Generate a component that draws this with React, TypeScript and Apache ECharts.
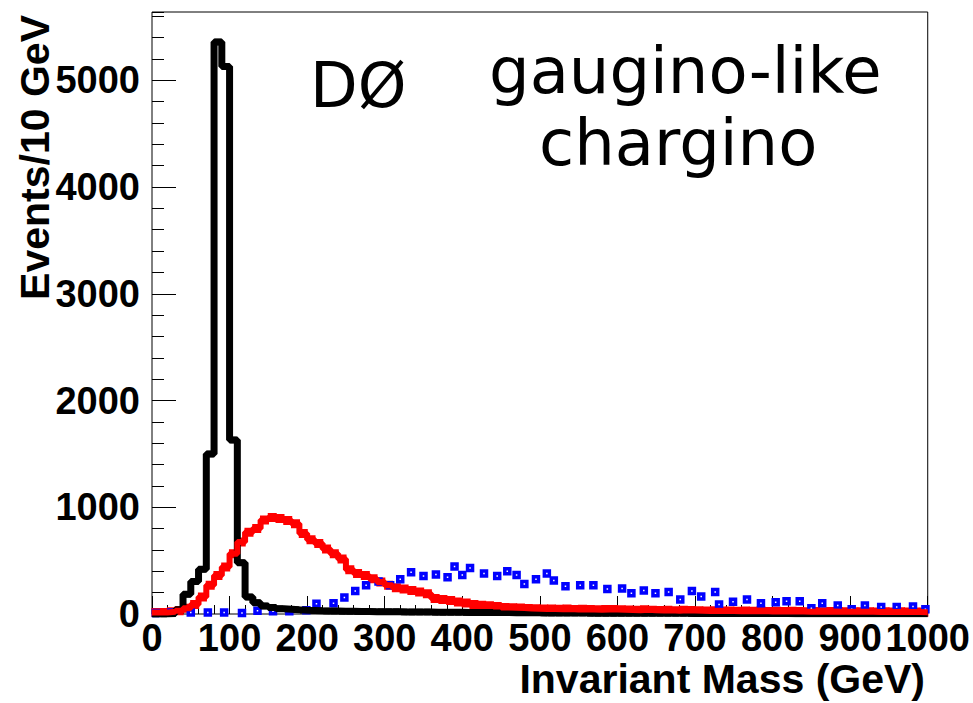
import React, { useEffect, useRef } from "react";
import * as echarts from "echarts";

// Histogram binning (GeV)
const MASS_MIN = 0;
const BIN_WIDTH = 10;

// Background (black histogram), events per 10 GeV bin, 0..1000 GeV
const blackCounts = [
  0, 0, 5, 40, 185, 305, 420, 1500, 5360, 5130,
  1630, 480, 160, 105, 75, 60, 50, 45, 40, 36,
  33, 30, 28, 27, 26, 25, 24, 23, 22, 21,
  20, 20, 19, 19, 18, 18, 17, 17, 16, 16,
  15, 15, 14, 14, 13, 13, 12, 12, 11, 11,
  10, 10, 10, 9, 9, 9, 8, 8, 8, 8,
  7, 7, 7, 7, 6, 6, 6, 6, 6, 5,
  5, 5, 5, 5, 5, 4, 4, 4, 4, 4,
  4, 4, 3, 3, 3, 3, 3, 3, 3, 3,
  3, 2, 2, 2, 2, 2, 2, 2, 2, 2,
];

// Red histogram, events per 10 GeV bin
const redCounts = [
  15, 15, 20, 30, 55, 90, 160, 270, 360, 440,
  565, 675, 765, 800, 880, 905, 895, 875, 845, 755,
  695, 660, 610, 565, 515, 415, 380, 360, 330, 300,
  270, 247, 235, 220, 205, 190, 145, 135, 127, 112,
  102, 90, 81, 78, 70, 60, 59, 57, 51, 50,
  48, 47, 45, 47, 43, 45, 42, 40, 43, 41,
  40, 38, 36, 40, 35, 33, 36, 31, 34, 32,
  30, 28, 31, 27, 29, 26, 28, 25, 27, 24,
  25, 24, 26, 23, 22, 24, 21, 23, 22, 20,
  21, 20, 22, 19, 20, 18, 20, 19, 18, 17,
];

// Blue points (mass in GeV, events)
const blueMass = [
  5, 25, 50, 72, 93, 116, 136, 156, 177, 199,
  212, 234, 248, 262, 276, 292, 307, 320, 334, 350,
  366, 381, 390, 400, 410, 428, 445, 458, 470, 480,
  495, 509, 518, 533, 552, 569, 587, 606, 618, 634,
  649, 666, 681, 696, 708, 726, 731, 749, 767, 785,
  804, 818, 835, 850, 864, 884, 902, 919, 940, 960,
  981, 997,
];
const blueCounts = [
  10, 15, 15, 15, 15, 10, 30, 25, 25, 35,
  95, 100, 155, 215, 270, 305, 270, 325, 390, 355,
  370, 345, 445, 365, 430, 380, 355, 400, 365, 280,
  325, 380, 315, 260, 270, 270, 235, 240, 195, 220,
  195, 205, 135, 215, 165, 205, 90, 115, 135, 100,
  110, 120, 120, 55, 100, 80, 45, 80, 65, 65,
  70, 45,
];

// Axis settings
const X_MIN = 0;
const X_MAX = 1000;
const X_STEP = 100;
const Y_MIN = 0;
const Y_MAX = 5640;
const Y_STEP = 1000;
const Y_MINOR_STEP = 200;

const xTitle = "Invariant Mass (GeV)";
const yTitle = "Events/10 GeV";
const expLabel = "DØ";
const modelLine1 = "gaugino-like";
const modelLine2 = "chargino";

function stepData(counts: number[]) {
  const pts = counts.map((v, i) => [MASS_MIN + i * BIN_WIDTH, v]);
  pts.push([MASS_MIN + counts.length * BIN_WIDTH, counts[counts.length - 1]]);
  return pts;
}
function centerData(counts: number[]) {
  return counts.map((v, i) => [MASS_MIN + (i + 0.5) * BIN_WIDTH, v]);
}

const LABEL_FONT = '"Liberation Sans", Arial, Helvetica, sans-serif';
const TEXT_FONT = '"DejaVu Sans", sans-serif';

export default function App() {
  const ref = useRef<HTMLDivElement>(null);
  useEffect(() => {
    document.body.style.margin = "0";
    const chart = echarts.init(ref.current!, null, { renderer: "svg" });
    const option: any = {
      animation: false,
      backgroundColor: "#ffffff",
      grid: {
        left: 152,
        right: 45,
        top: 12,
        bottom: 89,
        show: true,
        borderColor: "#000",
        borderWidth: 1,
        backgroundColor: "transparent",
      },
      xAxis: {
        type: "value",
        min: X_MIN,
        max: X_MAX,
        interval: X_STEP,
        axisLine: { show: false },
        splitLine: { show: false },
        axisTick: { inside: true, length: 18, lineStyle: { color: "#000", width: 1 } },
        minorTick: { show: true, splitNumber: 5, length: 9, lineStyle: { color: "#000", width: 1 } },
        axisLabel: {
          color: "#000",
          fontSize: 38,
          fontWeight: "bold",
          fontFamily: LABEL_FONT,
          margin: 5,
          hideOverlap: false,
          showMinLabel: true,
          showMaxLabel: true,
          formatter: (v: number) => String(v),
        },
      },
      yAxis: [
        {
          type: "value",
          min: Y_MIN,
          max: Y_MAX,
          interval: Y_STEP,
          axisLine: { show: false },
          splitLine: { show: false },
          axisTick: { inside: true, length: 24, lineStyle: { color: "#000", width: 1 } },
          axisLabel: {
            color: "#000",
            fontSize: 38,
            fontWeight: "bold",
            fontFamily: LABEL_FONT,
            margin: 12,
            showMaxLabel: false,
            formatter: (v: number) => String(v),
          },
        },
        {
          type: "value",
          position: "left",
          min: Y_MIN,
          max: Y_MAX,
          interval: Y_MINOR_STEP,
          axisLine: { show: false },
          splitLine: { show: false },
          axisTick: { inside: true, length: 12, lineStyle: { color: "#000", width: 1 } },
          axisLabel: { show: false },
        },
      ],
      series: [
        {
          type: "line",
          step: "end",
          data: stepData(blackCounts),
          showSymbol: false,
          lineStyle: { color: "#000", width: 7 },
          silent: true,
        },
        {
          type: "scatter",
          data: centerData(blackCounts),
          symbol: "rect",
          symbolSize: 4,
          itemStyle: { color: "#fff", borderColor: "#000", borderWidth: 2.5, opacity: 1 },
          silent: true,
        },
        {
          type: "line",
          step: "end",
          data: stepData(redCounts),
          showSymbol: false,
          lineStyle: { color: "#ff0000", width: 6 },
          silent: true,
        },
        {
          type: "scatter",
          data: centerData(redCounts),
          symbol: "rect",
          symbolSize: 5.5,
          itemStyle: { color: "#fff", borderColor: "#ff0000", borderWidth: 3.5, opacity: 1 },
          silent: true,
        },
        {
          type: "scatter",
          data: blueMass.map((m, i) => [m, blueCounts[i]]),
          symbol: "rect",
          symbolSize: 5,
          itemStyle: { color: "#fff", borderColor: "#0000ff", borderWidth: 3.5, opacity: 1 },
          silent: true,
        },
      ],
      graphic: [
        {
          type: "text",
          x: 310,
          y: 85,
          style: {
            text: expLabel,
            font: `62px ${TEXT_FONT}`,
            fill: "#000",
            align: "left",
            textAlign: "left",
            verticalAlign: "middle",
            textVerticalAlign: "middle",
          },
        },
        {
          type: "text",
          x: 489,
          y: 71,
          style: {
            text: modelLine1,
            font: `64px ${TEXT_FONT}`,
            fill: "#000",
            align: "left",
            textAlign: "left",
            verticalAlign: "middle",
            textVerticalAlign: "middle",
          },
        },
        {
          type: "text",
          x: 539,
          y: 143,
          style: {
            text: modelLine2,
            font: `64px ${TEXT_FONT}`,
            fill: "#000",
            align: "left",
            textAlign: "left",
            verticalAlign: "middle",
            textVerticalAlign: "middle",
          },
        },
        {
          type: "text",
          x: 925,
          y: 679,
          style: {
            text: xTitle,
            font: `bold 41px ${LABEL_FONT}`,
            fill: "#000",
            align: "right",
            textAlign: "right",
            verticalAlign: "middle",
            textVerticalAlign: "middle",
          },
        },
        {
          type: "text",
          x: 35,
          y: 15,
          rotation: Math.PI / 2,
          style: {
            text: yTitle,
            font: `bold 41px ${LABEL_FONT}`,
            fill: "#000",
            align: "right",
            textAlign: "right",
            verticalAlign: "middle",
            textVerticalAlign: "middle",
          },
        },
      ],
    };
    chart.setOption(option);
    return () => chart.dispose();
  }, []);
  return <div ref={ref} style={{ width: 973, height: 703 }} />;
}
